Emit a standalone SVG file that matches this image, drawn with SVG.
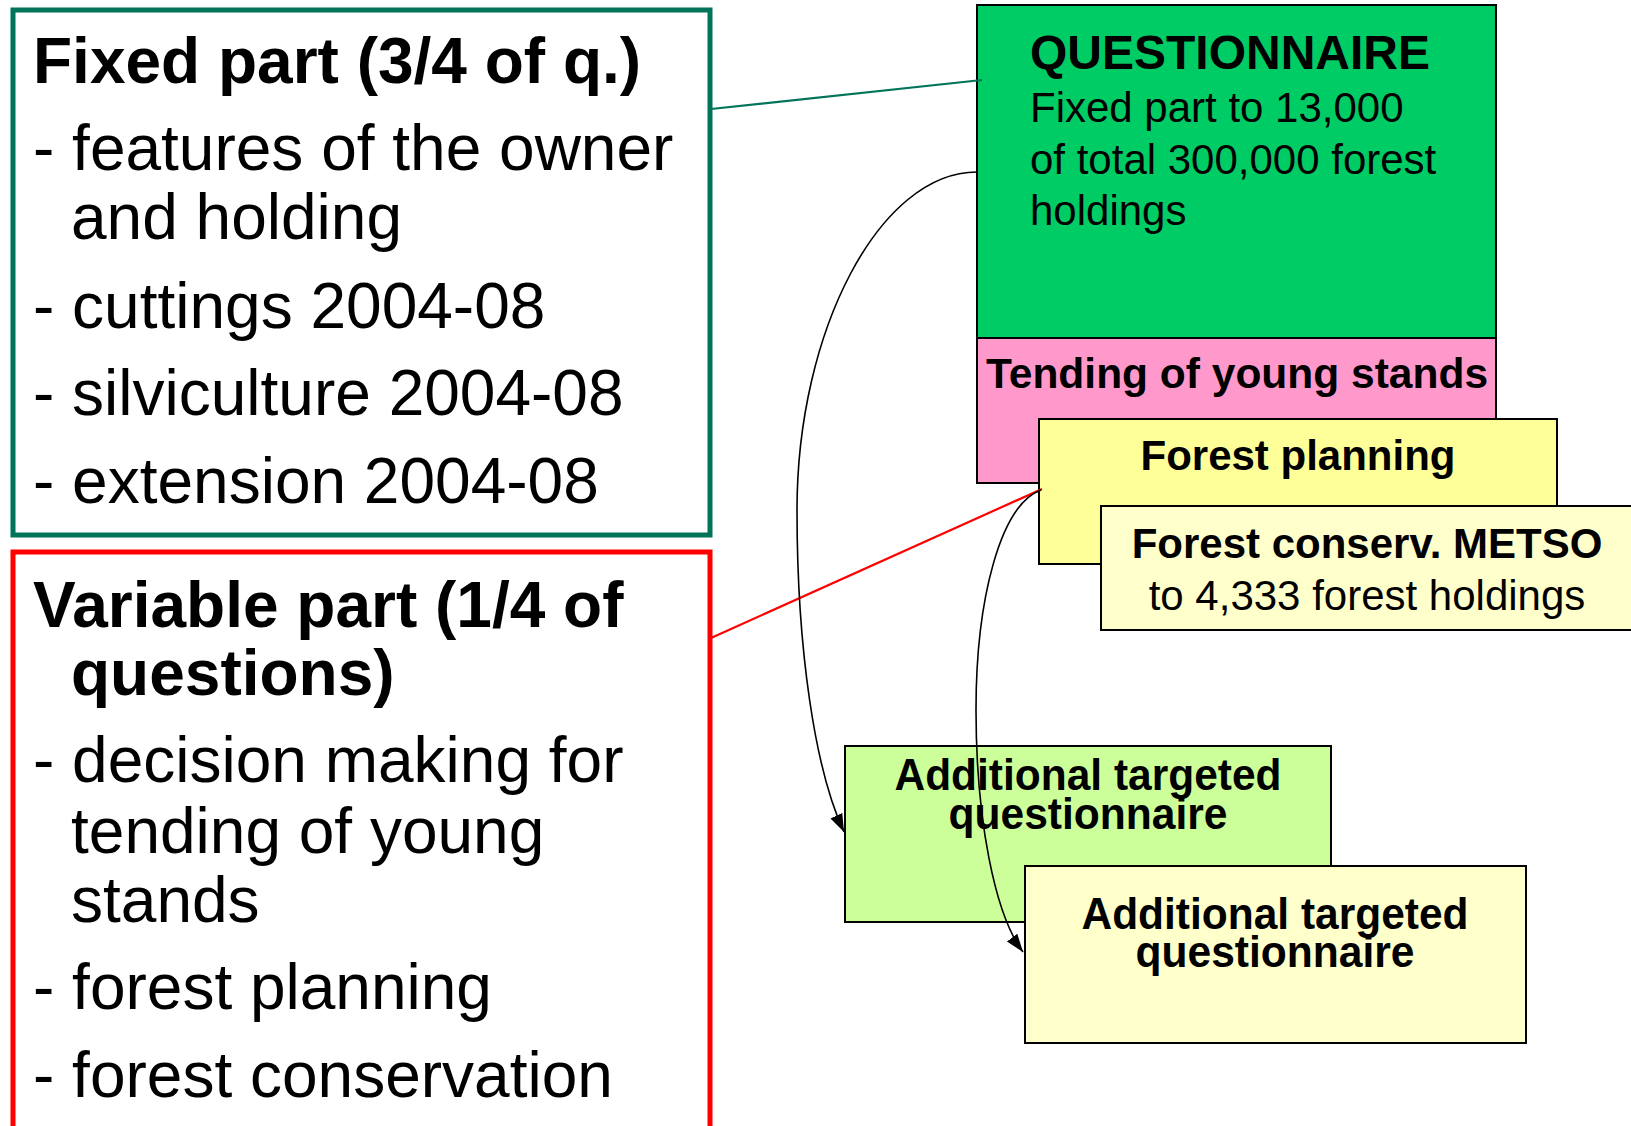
<svg xmlns="http://www.w3.org/2000/svg" width="1631" height="1126" viewBox="0 0 1631 1126">
<style>
text{font-family:"Liberation Sans",Arial,sans-serif;fill:#000}
.b{font-weight:bold}
.big{font-size:64px}
.mid{font-size:42px}
.box{stroke:#000;stroke-width:2}
.conn{fill:none;stroke:#000;stroke-width:1.6}
</style>
<defs>
<marker id="ah" markerUnits="userSpaceOnUse" markerWidth="20" markerHeight="14" refX="18" refY="6.5" orient="auto">
<path d="M0,0 L18,6.5 L0,13 z" fill="#000"/>
</marker>
</defs>
<rect width="1631" height="1126" fill="#fff"/>
<g id="fixed-part">
<rect x="13" y="10" width="697" height="525" fill="#fff" stroke="#00745A" stroke-width="5"/>
<text class="b big" x="33" y="83">Fixed part (3/4 of q.)</text>
<text class="big" x="33" y="170">- features of the owner</text>
<text class="big" x="71" y="239">and holding</text>
<text class="big" x="33" y="328">- cuttings 2004-08</text>
<text class="big" x="33" y="415">- silviculture 2004-08</text>
<text class="big" x="33" y="503">- extension 2004-08</text>
</g>
<g id="variable-part">
<rect x="13" y="552" width="697" height="600" fill="#fff" stroke="#FF0000" stroke-width="5"/>
<text class="b big" x="33" y="627">Variable part (1/4 of</text>
<text class="b big" x="71" y="695">questions)</text>
<text class="big" x="33" y="782">- decision making for</text>
<text class="big" x="71" y="853">tending of young</text>
<text class="big" x="71" y="922">stands</text>
<text class="big" x="33" y="1009">- forest planning</text>
<text class="big" x="33" y="1097">- forest conservation</text>
</g>
<g id="questionnaire">
<rect class="box" x="977" y="5" width="519" height="333" fill="#00CC66"/>
<text class="b" font-size="48" x="1030" y="69">QUESTIONNAIRE</text>
<text class="mid" x="1030" y="122">Fixed part to 13,000</text>
<text class="mid" x="1030" y="174">of total 300,000 forest</text>
<text class="mid" x="1030" y="225">holdings</text>
</g>
<g id="tending">
<rect class="box" x="977" y="338" width="519" height="145" fill="#FF99CC"/>
<text class="b" font-size="42.5" x="1237" y="388" text-anchor="middle">Tending of young stands</text>
</g>
<g id="forest-planning">
<rect class="box" x="1039" y="419" width="518" height="145" fill="#FFFF99"/>
<text class="b mid" x="1298" y="470" text-anchor="middle">Forest planning</text>
</g>
<g id="metso">
<rect class="box" x="1101" y="506" width="545" height="124" fill="#FFFFCC"/>
<text class="b mid" x="1367" y="558" text-anchor="middle">Forest conserv. METSO</text>
<text class="mid" x="1367" y="610" text-anchor="middle">to 4,333 forest holdings</text>
</g>
<g id="additional-1">
<rect class="box" x="845" y="746" width="486" height="176" fill="#CCFF99"/>
<text class="b" font-size="44" x="1088" y="790" text-anchor="middle" textLength="387" lengthAdjust="spacingAndGlyphs">Additional targeted</text>
<text class="b" font-size="44" x="1088" y="829" text-anchor="middle" textLength="279" lengthAdjust="spacingAndGlyphs">questionnaire</text>
</g>
<g id="additional-2">
<rect class="box" x="1025" y="866" width="501" height="177" fill="#FFFFCC"/>
<text class="b" font-size="44" x="1275" y="929" text-anchor="middle" textLength="387" lengthAdjust="spacingAndGlyphs">Additional targeted</text>
<text class="b" font-size="44" x="1275" y="967" text-anchor="middle" textLength="279" lengthAdjust="spacingAndGlyphs">questionnaire</text>
</g>
<g id="connectors">
<line x1="711" y1="109" x2="982" y2="80" stroke="#00745A" stroke-width="2.2"/>
<line x1="711" y1="638" x2="1042" y2="489" stroke="#FF0000" stroke-width="2.2"/>
<path class="conn" d="M977,172 C880,172 797,330 797,510 C797,650 815,770 844,832" marker-end="url(#ah)"/>
<path class="conn" d="M1041,490 C1000,505 976,600 976,710 C976,820 995,915 1023,952" marker-end="url(#ah)"/>
</g>
</svg>
